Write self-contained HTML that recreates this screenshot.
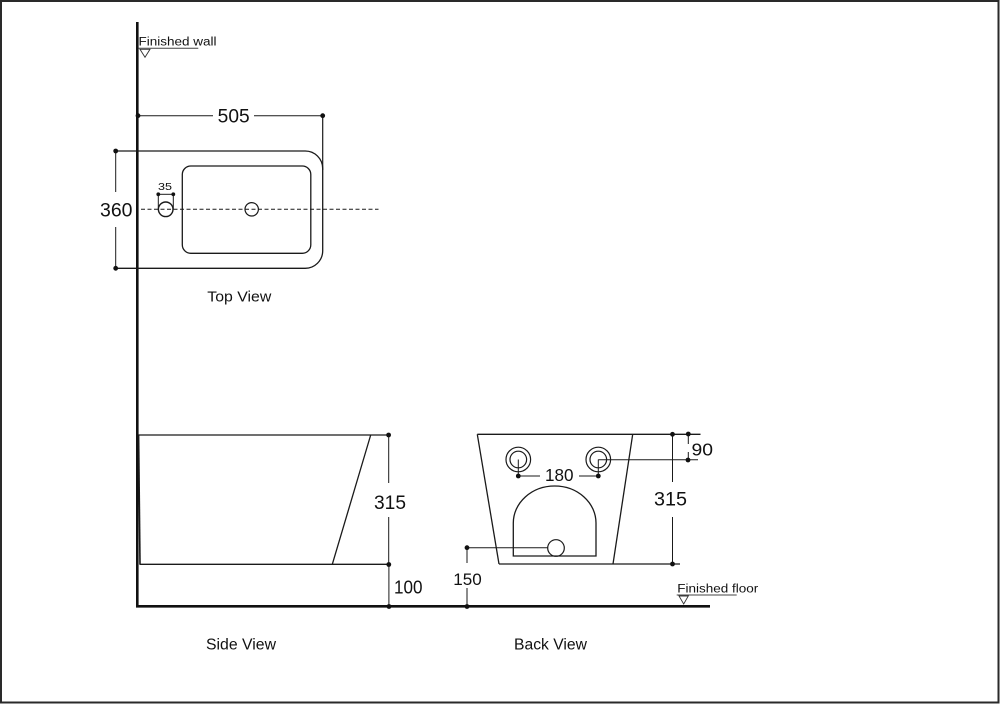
<!DOCTYPE html>
<html>
<head>
<meta charset="utf-8">
<style>
  html, body { margin: 0; padding: 0; background: #ffffff; }
  body { width: 1000px; height: 704px; overflow: hidden; }
  svg { display: block; }
  text { font-family: "Liberation Sans", Arial, sans-serif; fill: #111; }
</style>
</head>
<body>
<svg width="1000" height="704" viewBox="0 0 1000 704" xmlns="http://www.w3.org/2000/svg">
  <rect x="0" y="0" width="1000" height="704" fill="#fff"/>
  <!-- frame -->
  <rect x="1" y="1" width="997.5" height="701.5" fill="none" stroke="#2a2a2a" stroke-width="2"/>

  <!-- wall and floor -->
  <line x1="137.3" y1="22" x2="137.3" y2="607.5" stroke="#111" stroke-width="2.6"/>
  <line x1="136" y1="606.3" x2="710" y2="606.3" stroke="#111" stroke-width="2.6"/>

  <!-- Finished wall -->
  <text x="138.5" y="45.7" font-size="11.5" textLength="78" lengthAdjust="spacingAndGlyphs">Finished wall</text>
  <line x1="138.3" y1="48.3" x2="198.3" y2="48.3" stroke="#444" stroke-width="1"/>
  <polygon points="140,49.3 150,49.3 145,57.3" fill="none" stroke="#333" stroke-width="0.9"/>

  <!-- ===== TOP VIEW ===== -->
  <g stroke="#1a1a1a" fill="none">
    <!-- outline -->
    <path d="M115.7,151 H305 A17.5,17.5 0 0 1 322.7,168.5 V251 A17.5,17.5 0 0 1 305,268.3 H115.7" stroke-width="1.3"/>
    <!-- inner bowl -->
    <rect x="182.3" y="166" width="128.5" height="87.3" rx="8.5" ry="8.5" stroke-width="1.3"/>
    <!-- 505 dim -->
    <line x1="138" y1="115.7" x2="213" y2="115.7" stroke-width="1"/>
    <line x1="254" y1="115.7" x2="322.7" y2="115.7" stroke-width="1"/>
    <line x1="322.7" y1="115.7" x2="322.7" y2="170" stroke-width="1.2"/>
    <!-- 360 dim -->
    <line x1="115.7" y1="151" x2="115.7" y2="192" stroke-width="1"/>
    <line x1="115.7" y1="227" x2="115.7" y2="268.3" stroke-width="1"/>
    <!-- centerline -->
    <line x1="141" y1="209.3" x2="378.5" y2="209.3" stroke-width="1" stroke-dasharray="4 2.5"/>
    <!-- drains -->
    <circle cx="251.7" cy="209.3" r="6.7" stroke-width="1.2"/>
    <circle cx="165.7" cy="209.3" r="7.3" stroke-width="1.4"/>
    <!-- 35 dim -->
    <line x1="158.3" y1="194.3" x2="173.3" y2="194.3" stroke-width="1"/>
    <line x1="158.3" y1="194.3" x2="158.3" y2="209" stroke-width="1"/>
    <line x1="173.3" y1="194.3" x2="173.3" y2="209" stroke-width="1"/>
  </g>
  <g fill="#111">
    <circle cx="138" cy="115.7" r="2.4"/>
    <circle cx="322.7" cy="115.7" r="2.4"/>
    <circle cx="115.7" cy="151" r="2.4"/>
    <circle cx="115.7" cy="268.3" r="2.4"/>
    <circle cx="158.3" cy="194.3" r="1.9"/>
    <circle cx="173.3" cy="194.3" r="1.9"/>
  </g>
  <text x="217.7" y="122.7" font-size="19" textLength="32" lengthAdjust="spacingAndGlyphs">505</text>
  <text x="100" y="216.5" font-size="19" textLength="32.5" lengthAdjust="spacingAndGlyphs">360</text>
  <text x="158" y="190" font-size="10" textLength="14" lengthAdjust="spacingAndGlyphs">35</text>
  <text x="207.3" y="301.7" font-size="15" textLength="64" lengthAdjust="spacingAndGlyphs">Top View</text>

  <!-- ===== SIDE VIEW ===== -->
  <g stroke="#1a1a1a" fill="none">
    <line x1="138" y1="435" x2="388.5" y2="435" stroke-width="1.3"/>
    <line x1="370.7" y1="435" x2="332.3" y2="564.3" stroke-width="1.3"/>
    <line x1="139.5" y1="564.3" x2="389" y2="564.3" stroke-width="1.3"/>
    <line x1="138.6" y1="435" x2="140" y2="564.3" stroke-width="1.6"/>
    <!-- 315 dim -->
    <line x1="388.7" y1="435" x2="388.7" y2="483" stroke-width="1"/>
    <line x1="388.7" y1="517" x2="388.7" y2="564.5" stroke-width="1"/>
    <!-- 100 dim -->
    <line x1="388.9" y1="564.5" x2="388.9" y2="606.5" stroke-width="1"/>
  </g>
  <g fill="#111">
    <circle cx="388.6" cy="435" r="2.4"/>
    <circle cx="388.8" cy="564.5" r="2.4"/>
    <circle cx="389" cy="606.5" r="2.4"/>
  </g>
  <text x="374" y="509" font-size="19.5" textLength="32" lengthAdjust="spacingAndGlyphs">315</text>
  <text x="394" y="593.3" font-size="18" textLength="28.5" lengthAdjust="spacingAndGlyphs">100</text>
  <text x="206" y="649.3" font-size="15.5" textLength="70" lengthAdjust="spacingAndGlyphs">Side View</text>

  <!-- ===== BACK VIEW ===== -->
  <g stroke="#1a1a1a" fill="none">
    <!-- trapezoid -->
    <line x1="477.3" y1="434.3" x2="700.5" y2="434.3" stroke-width="1.3"/>
    <line x1="477.3" y1="434.3" x2="499" y2="564" stroke-width="1.3"/>
    <line x1="632.7" y1="434.3" x2="613" y2="564" stroke-width="1.3"/>
    <line x1="499" y1="564" x2="680" y2="564" stroke-width="1.3"/>
    <!-- 315 dim -->
    <line x1="672.5" y1="434.3" x2="672.5" y2="482" stroke-width="1"/>
    <line x1="672.5" y1="517" x2="672.5" y2="564" stroke-width="1"/>
    <!-- 90 dim -->
    <line x1="688.3" y1="434" x2="688.3" y2="444" stroke-width="1"/>
    <line x1="688.3" y1="452" x2="688.3" y2="460" stroke-width="1"/>
    <line x1="598.3" y1="459.8" x2="698" y2="459.8" stroke-width="1"/>
    <!-- inlets -->
    <circle cx="518.3" cy="459.5" r="12.3" stroke-width="1.2"/>
    <circle cx="518.3" cy="459.5" r="8.3" stroke-width="1.2"/>
    <circle cx="598.3" cy="459.5" r="12.3" stroke-width="1.2"/>
    <circle cx="598.3" cy="459.5" r="8.3" stroke-width="1.2"/>
    <line x1="518.3" y1="459.5" x2="518.3" y2="476" stroke-width="1"/>
    <line x1="598.3" y1="459.5" x2="598.3" y2="476" stroke-width="1"/>
    <!-- 180 dim -->
    <line x1="518.3" y1="476" x2="540" y2="476" stroke-width="1"/>
    <line x1="579" y1="476" x2="598.3" y2="476" stroke-width="1"/>
    <!-- arch opening -->
    <path d="M513.3,556 V523 A41.35,37 0 0 1 596,523 V556 Z" stroke-width="1.3"/>
    <circle cx="556" cy="548" r="8.3" stroke-width="1.2"/>
    <!-- 150 dim -->
    <line x1="467" y1="547.7" x2="547.7" y2="547.7" stroke-width="1"/>
    <line x1="467" y1="547.7" x2="467" y2="563" stroke-width="1"/>
    <line x1="467" y1="588" x2="467" y2="606.5" stroke-width="1"/>
  </g>
  <g fill="#111">
    <circle cx="672.5" cy="434.3" r="2.4"/>
    <circle cx="688.3" cy="434" r="2.4"/>
    <circle cx="688" cy="460" r="2.4"/>
    <circle cx="672.5" cy="564" r="2.4"/>
    <circle cx="518.3" cy="476" r="2.4"/>
    <circle cx="598.3" cy="476" r="2.4"/>
    <circle cx="467" cy="547.7" r="2.4"/>
    <circle cx="467" cy="606.5" r="2.4"/>
  </g>
  <text x="545" y="481" font-size="17.5" textLength="28.5" lengthAdjust="spacingAndGlyphs">180</text>
  <text x="691.5" y="455.5" font-size="17.5" textLength="21.5" lengthAdjust="spacingAndGlyphs">90</text>
  <text x="654" y="505.7" font-size="19.5" textLength="33" lengthAdjust="spacingAndGlyphs">315</text>
  <text x="453.3" y="585" font-size="17" textLength="28.5" lengthAdjust="spacingAndGlyphs">150</text>
  <text x="514" y="649.3" font-size="15.5" textLength="73" lengthAdjust="spacingAndGlyphs">Back View</text>

  <!-- Finished floor -->
  <text x="677.3" y="592.7" font-size="11.5" textLength="81" lengthAdjust="spacingAndGlyphs">Finished floor</text>
  <line x1="676.7" y1="595" x2="736.7" y2="595" stroke="#444" stroke-width="1"/>
  <polygon points="679,596 688.3,596 683.7,604" fill="none" stroke="#333" stroke-width="0.9"/>
</svg>
</body>
</html>
